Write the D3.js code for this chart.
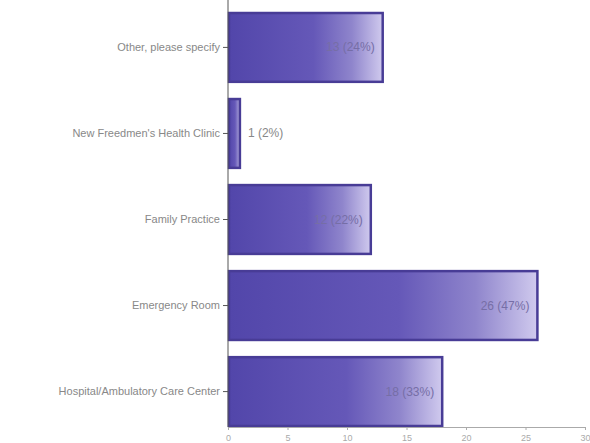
<!DOCTYPE html>
<html><head><meta charset="utf-8">
<script src="https://cdn.jsdelivr.net/npm/d3@7"></script>
<style>body{margin:0;background:#fff}svg{display:block}</style>
</head><body>
<svg id="c" width="590" height="443"></svg>
<script>
const categories = ["Other, please specify","New Freedmen's Health Clinic","Family Practice","Emergency Room","Hospital/Ambulatory Care Center"];
const values = [13,1,12,26,18];
const percents = ["24%","2%","22%","47%","33%"];
const xTicks = [0,5,10,15,20,25,30];

const svg = d3.select("#c");
const x = d3.scaleLinear().domain([0,30]).range([228, 585]);
const y = d3.scaleBand().domain(categories).range([4.4, 434.6]).paddingInner(0.2).paddingOuter(0.1);

const defs = svg.append("defs");
const g = defs.append("linearGradient").attr("id","bg").attr("x1","0").attr("x2","1").attr("y1","0").attr("y2","0");
g.append("stop").attr("offset","0").attr("stop-color","#5246aa");
g.append("stop").attr("offset","0.55").attr("stop-color","#6558b8");
g.append("stop").attr("offset","0.8").attr("stop-color","#8f85cc");
g.append("stop").attr("offset","1").attr("stop-color","#d0caee");

svg.append("g").selectAll("rect").data(categories).join("rect")
  .attr("x", x(0)+1)
  .attr("y", d=>y(d))
  .attr("width", (d,i)=>x(values[i])-x(0)-1)
  .attr("height", y.bandwidth())
  .attr("fill","url(#bg)")
  .attr("stroke","#483c96").attr("stroke-width",2.5);

svg.append("g").selectAll("text").data(categories).join("text")
  .attr("x",(d,i)=> values[i] < 3 ? x(values[i])+8 : x(values[i])-8)
  .attr("y", d=>y(d)+y.bandwidth()/2+4)
  .attr("text-anchor",(d,i)=> values[i] < 3 ? "start" : "end")
  .attr("font-family","Liberation Sans, Arial, sans-serif").attr("font-size",12)
  .attr("fill",(d,i)=> values[i] < 3 ? "#888" : "#766ea6")
  .text((d,i)=>values[i]+" ("+percents[i]+")");

const yAxis = svg.append("g").attr("transform",`translate(${x(0)},0)`)
  .call(d3.axisLeft(y).tickSize(5).tickPadding(3));
yAxis.select(".domain").attr("d","M0,0V427").attr("stroke","#555");
yAxis.selectAll(".tick line").attr("stroke","#555");
yAxis.selectAll("text").attr("font-family","Liberation Sans, Arial, sans-serif").attr("font-size",11).attr("fill","#888");

const xAxis = svg.append("g").attr("transform","translate(0,427)")
  .call(d3.axisBottom(x).tickValues(xTicks).tickSize(3).tickPadding(5));
xAxis.select(".domain").attr("stroke","#aaa");
xAxis.selectAll(".tick line").attr("stroke","#aaa");
xAxis.selectAll("text").attr("font-family","Liberation Sans, Arial, sans-serif").attr("font-size",9).attr("fill","#aaa");
</script>
</body></html>
